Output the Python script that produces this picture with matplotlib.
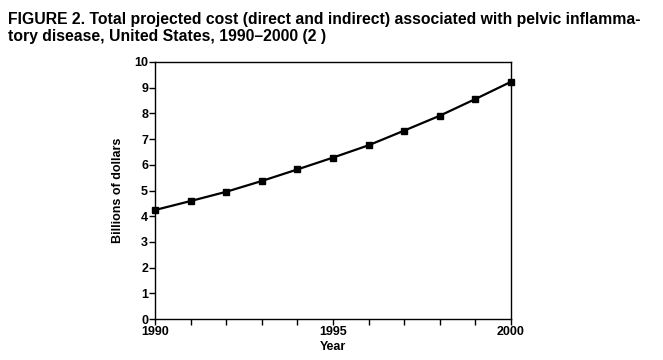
import matplotlib.pyplot as plt
from matplotlib.ticker import MultipleLocator

years = [1990, 1991, 1992, 1993, 1994, 1995, 1996, 1997, 1998, 1999, 2000]
cost = [4.24, 4.59, 4.95, 5.37, 5.82, 6.28, 6.76, 7.33, 7.91, 8.56, 9.23]
x_ticks = [1990, 1995, 2000]
y_ticks = list(range(0, 11))

plt.rcParams['font.family'] = ['Liberation Sans', 'DejaVu Sans']

fig = plt.figure(figsize=(6.63, 3.6), dpi=100)
ax = fig.add_axes([155 / 663, 1 - 319 / 360, (511 - 155) / 663, (319 - 62) / 360])

ax.plot(years, cost, color='black', linewidth=1.6, marker='s', markersize=5,
        clip_on=False, zorder=3)

ax.set_xlim(1990, 2000)
ax.set_ylim(0, 10)
ax.set_xticks(x_ticks)
ax.xaxis.set_minor_locator(MultipleLocator(1))
ax.set_yticks(y_ticks)
ax.tick_params(axis='both', which='both', direction='out', length=4, width=1,
               labelsize=9, pad=1)
for lbl in ax.get_xticklabels() + ax.get_yticklabels():
    lbl.set_fontweight('bold')
for s in ax.spines.values():
    s.set_linewidth(1)

ax.set_xlabel('Year', fontsize=9, fontweight='bold', labelpad=2)
ax.set_ylabel('Billions of dollars', fontsize=9, fontweight='bold', labelpad=7)

fig.text(8 / 663, 1 - 12 / 360,
         'FIGURE 2. Total projected cost (direct and indirect) associated with pelvic inflamma-\n'
         'tory disease, United States, 1990\u20132000 (2 )',
         fontsize=11.3, fontweight='bold', ha='left', va='top', linespacing=1.2)

fig.savefig('out.png', dpi=100)
